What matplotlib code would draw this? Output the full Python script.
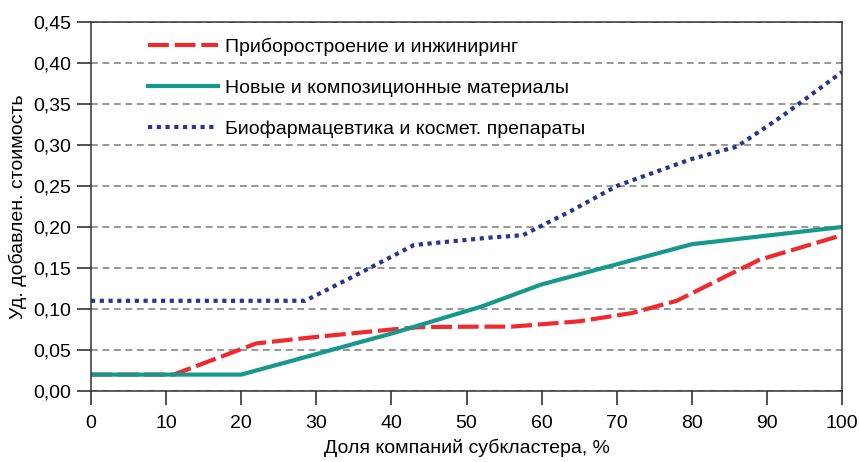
import matplotlib
matplotlib.use('Agg')
from matplotlib import pyplot as plt
from matplotlib.ticker import FuncFormatter

plt.rcParams['font.family'] = ['Liberation Sans', 'DejaVu Sans']

# данные
red_x = [0, 11, 22, 30, 40, 44, 52, 56, 65, 72, 78, 85, 89, 100]
red_y = [0.02, 0.02, 0.058, 0.066, 0.075, 0.078, 0.0785, 0.0785, 0.085, 0.095, 0.11, 0.142, 0.16, 0.19]

teal_x = [0, 20, 40, 52, 60, 80, 100]
teal_y = [0.02, 0.02, 0.07, 0.103, 0.13, 0.179, 0.20]

blue_x = [0, 28.5, 35, 43, 53, 57.5, 64, 70, 73, 80, 86, 92, 100]
blue_y = [0.11, 0.11, 0.14, 0.178, 0.187, 0.19, 0.22, 0.25, 0.26, 0.283, 0.298, 0.335, 0.389]

labels = ['Приборостроение и инжиниринг',
          'Новые и композиционные материалы',
          'Биофармацевтика и космет. препараты']

fig = plt.figure(figsize=(8.59, 4.62), dpi=100)
ax = fig.add_axes([91 / 859, 1 - 391 / 462, (842 - 91) / 859, (391 - 22) / 462])

ax.plot(red_x, red_y, color='#ee2a2f', lw=3.0, dashes=(5, 1.4), label=labels[0])
ax.plot(teal_x, teal_y, color='#16998c', lw=3.0, label=labels[1])
ax.plot(blue_x, blue_y, color='#2b3590', lw=3.0, dashes=(1.0, 1.1), label=labels[2])

ax.set_xlim(0, 100)
ax.set_ylim(0, 0.45)
ax.set_xticks(range(0, 101, 10))
ax.set_yticks([i * 0.05 for i in range(10)])
ax.yaxis.set_major_formatter(FuncFormatter(lambda v, p: f'{v:.2f}'.replace('.', ',')))
ax.grid(axis='y', color='#7a7a7a', ls=(0, (4.5, 3)), lw=1.1)
ax.tick_params(labelsize=14, length=10, width=1.1, color='#222222', pad=4)
ax.tick_params(axis='x', pad=7)
for s in ax.spines.values():
    s.set_linewidth(1.1)
    s.set_color('#333333')

ax.set_xlabel('Доля компаний субкластера, %', fontsize=14, labelpad=5)
ax.set_ylabel('Уд. добавлен. стоимость', fontsize=14, labelpad=5)

ax.legend(loc='upper left', bbox_to_anchor=(0.076, 0.957), frameon=False, fontsize=14,
          borderpad=0, borderaxespad=0,
          handlelength=3.6, handletextpad=0.36, labelspacing=1.2)

plt.savefig('out.png', dpi=100)
